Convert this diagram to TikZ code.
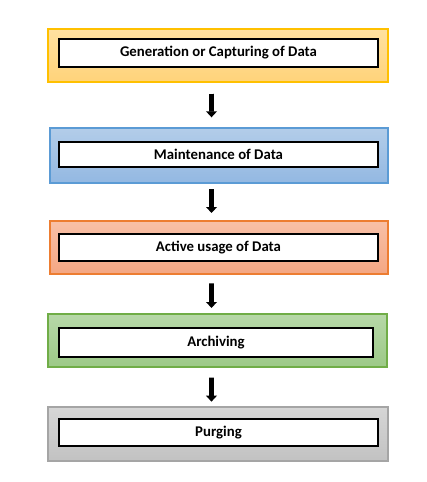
\documentclass[tikz,border=0pt]{standalone}
\usepackage{fontspec}
\setmainfont{Carlito}
\usetikzlibrary{arrows.meta}
\definecolor{b1line}{HTML}{FFC000}
\definecolor{b1top}{HTML}{FFE1A0}
\definecolor{b1bot}{HTML}{FFD37A}
\definecolor{b2line}{HTML}{5B9BD5}
\definecolor{b2top}{HTML}{B3CDE9}
\definecolor{b2bot}{HTML}{93B8E2}
\definecolor{b3line}{HTML}{ED7D31}
\definecolor{b3top}{HTML}{F8C0A7}
\definecolor{b3bot}{HTML}{F4A783}
\definecolor{b4line}{HTML}{70AD47}
\definecolor{b4top}{HTML}{B7D8A8}
\definecolor{b4bot}{HTML}{9CC987}
\definecolor{b5line}{HTML}{A5A5A5}
\definecolor{b5top}{HTML}{D6D6D6}
\definecolor{b5bot}{HTML}{C2C2C2}
\tikzset{
  panel/.style={line width=0.9pt, inner sep=0pt, outer sep=0pt},
  stagebox/.style={draw=black, fill=white, line width=1pt, inner sep=0pt, outer sep=0pt, font=\bfseries\fontsize{11.1pt}{13pt}\selectfont, text=black},
  flowarrow/.style={line width=3.5pt, -{Triangle[width=8pt,length=4.5pt]}},
}
\begin{document}
\begin{tikzpicture}[x=0.75pt,y=-0.75pt]
\useasboundingbox (0,0) rectangle (426,482);
% outer coloured panels
\node[panel, draw=b1line, top color=b1top, bottom color=b1bot, minimum width=255pt, minimum height=39.75pt] (p1) at (218,55.5) {};
\node[panel, draw=b2line, top color=b2top, bottom color=b2bot, minimum width=253.5pt, minimum height=41.25pt] (p2) at (219,155.5) {};
\node[panel, draw=b3line, top color=b3top, bottom color=b3bot, minimum width=253.5pt, minimum height=39.75pt] (p3) at (219,247.5) {};
\node[panel, draw=b4line, top color=b4top, bottom color=b4bot, minimum width=254.25pt, minimum height=39.75pt] (p4) at (217.5,340.5) {};
\node[panel, draw=b5line, top color=b5top, bottom color=b5bot, minimum width=255pt, minimum height=40.5pt] (p5) at (218,434) {};
% inner labelled boxes
\node[stagebox, minimum width=239.25pt, minimum height=21pt] (s1) at (218.5,53) {Generation or Capturing of Data};
\node[stagebox, minimum width=239.25pt, minimum height=18.75pt] (s2) at (218.5,154.5) {Maintenance of Data};
\node[stagebox, minimum width=239.25pt, minimum height=20.25pt] (s3) at (218.5,247.5) {Active usage of Data};
\node[stagebox, minimum width=235.5pt, minimum height=21.75pt] (s4) at (216,342.5) {Archiving};
\node[stagebox, minimum width=239.25pt, minimum height=20.25pt] (s5) at (218.5,432.5) {Purging};
% arrows
\draw[flowarrow, shorten <=9pt, shorten >=8pt] ([xshift=-4.9pt]p1.south) -- ([xshift=-5.6pt]p2.north);
\draw[flowarrow, shorten <=4.5pt, shorten >=6pt] ([xshift=-5.6pt]p2.south) -- ([xshift=-5.6pt]p3.north);
\draw[flowarrow, shorten <=7pt, shorten >=4.5pt] ([xshift=-5.6pt]p3.south) -- ([xshift=-4.5pt]p4.north);
\draw[flowarrow, shorten <=8pt, shorten >=4pt] ([xshift=-4.5pt]p4.south) -- ([xshift=-4.9pt]p5.north);
\end{tikzpicture}
\end{document}
